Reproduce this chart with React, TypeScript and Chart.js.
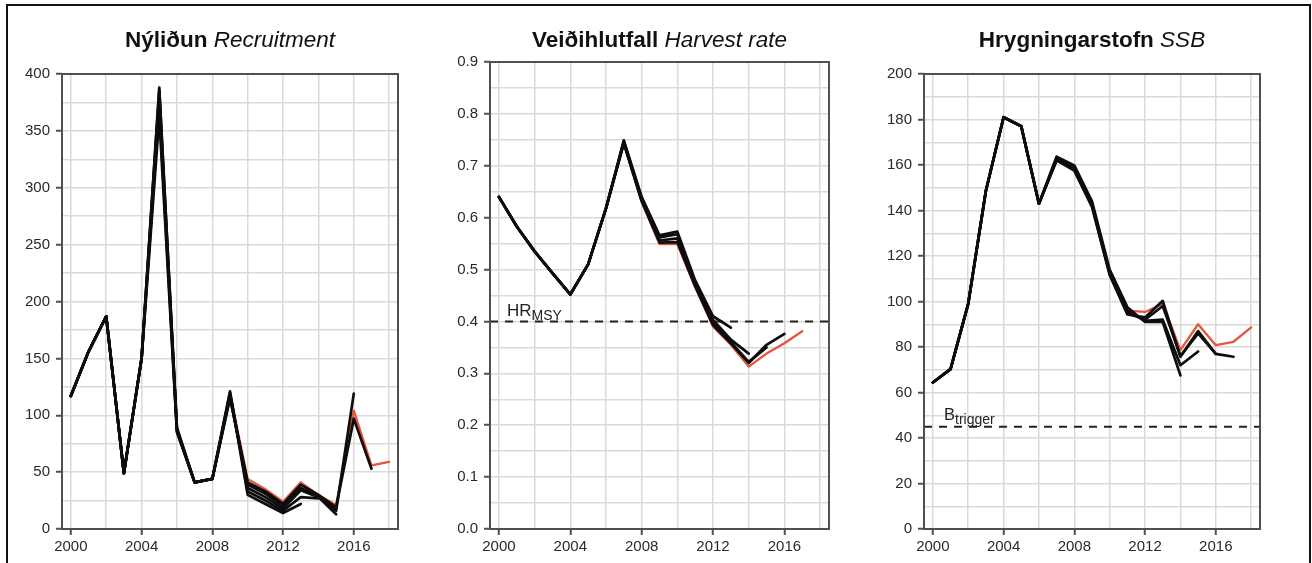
import React, { useEffect, useRef } from 'react';
import { Chart, registerables } from 'chart.js';

Chart.register(...registerables);

// ---------- data ----------
const YEARS = [2000, 2001, 2002, 2003, 2004, 2005, 2006, 2007, 2008, 2009, 2010, 2011, 2012, 2013, 2014, 2015, 2016, 2017, 2018];
const X_GRID = [2000, 2002, 2004, 2006, 2008, 2010, 2012, 2014, 2016, 2018];
const X_LABELS = [2000, 2004, 2008, 2012, 2016];

// Recruitment (Nýliðun) – retrospective runs
const REC_Y_LABELS = [0, 50, 100, 150, 200, 250, 300, 350, 400];
const REC_RUN_2013 = [117, 156, 187, 49, 150, 388, 89, 41, 44, 120, 30, 22, 14, 22];
const REC_RUN_2014 = [117, 156, 187, 49, 150, 386, 88, 41, 44, 121, 33, 25, 16, 28, 27];
const REC_RUN_2015 = [117, 156, 187, 49, 150, 380, 87, 41, 44, 118, 36, 28, 18, 34, 28, 13];
const REC_RUN_2016 = [117, 156, 187, 49, 150, 372, 86, 41, 44, 116, 39, 31, 20, 36, 29, 16, 119];
const REC_RUN_2017 = [117, 156, 187, 49, 150, 362, 85, 41, 44, 115, 41, 33, 22, 39, 30, 19, 97, 53];
const REC_RUN_2018 = [117, 156, 187, 49, 150, 385, 88, 41, 44, 119, 44, 35, 24, 41, 30, 21, 104, 56, 59];

// Harvest rate (Veiðihlutfall)
const HR_Y_LABELS = [0, 0.1, 0.2, 0.3, 0.4, 0.5, 0.6, 0.7, 0.8, 0.9];
const HR_MSY = 0.4;
const HR_RUN_2013 = [0.64, 0.583, 0.535, 0.493, 0.452, 0.51, 0.618, 0.749, 0.64, 0.566, 0.573, 0.479, 0.41, 0.388];
const HR_RUN_2014 = [0.64, 0.583, 0.535, 0.493, 0.452, 0.51, 0.618, 0.747, 0.637, 0.562, 0.568, 0.475, 0.403, 0.365, 0.338];
const HR_RUN_2015 = [0.64, 0.583, 0.535, 0.493, 0.452, 0.51, 0.618, 0.745, 0.634, 0.556, 0.56, 0.47, 0.397, 0.36, 0.322, 0.35];
const HR_RUN_2016 = [0.64, 0.583, 0.535, 0.493, 0.452, 0.51, 0.618, 0.743, 0.632, 0.552, 0.553, 0.468, 0.393, 0.358, 0.32, 0.355, 0.376];
const HR_RUN_2017 = [0.64, 0.583, 0.535, 0.493, 0.452, 0.51, 0.618, 0.742, 0.63, 0.549, 0.549, 0.466, 0.39, 0.355, 0.313, 0.338, 0.358, 0.381];

// Spawning stock biomass (Hrygningarstofn)
const SSB_Y_LABELS = [0, 20, 40, 60, 80, 100, 120, 140, 160, 180, 200];
const B_TRIGGER = 45;
const SSB_RUN_2014 = [64.4, 70.3, 99, 148.7, 181, 177, 143, 163.7, 159.8, 144, 114, 97.5, 91, 91, 67.5];
const SSB_RUN_2015 = [64.4, 70.3, 99, 148.7, 181, 177, 143, 163, 159, 143, 113, 96, 91.5, 92, 72, 78];
const SSB_RUN_2016 = [64.4, 70.3, 99, 148.7, 181, 177, 143, 162.5, 158, 142, 112, 95, 92, 98, 76, 86, 77];
const SSB_RUN_2017 = [64.4, 70.3, 99, 148.7, 181, 177, 143, 162, 157.5, 141.6, 111.7, 94.3, 93, 100.3, 75.7, 87, 77, 75.7];
const SSB_RUN_2018 = [64.4, 70.3, 99, 148.7, 181, 177, 143, 162.3, 158.5, 142.5, 112.5, 96, 95.4, 99, 78.6, 90, 80.8, 82.3, 88.6];

// ---------- styling ----------
const H = 563;
const CHART_BOTTOM = 529;
const FONT = '"Liberation Sans", Arial, Helvetica, sans-serif';
const BLACK = '#0d0d0d';
const RED = '#e4553d';
const GRID = '#d9d9d9';
const AXIS = '#505050';
const TICK_TEXT = '#2a2a2a';

type Run = { values: number[]; color: string; width: number };

interface PanelProps {
  left: number;
  width: number;
  chartLeft: number;
  chartRight: number;
  chartTop: number;
  titleBold: string;
  titleItalic: string;
  yMax: number;
  yLabels: number[];
  yFormat: (v: number) => string;
  runs: Run[];
  refValue?: number;
  refMain?: string;
  refSub?: string;
  refMainSize?: number;
  refSubSize?: number;
  refDx?: number;
  refDy?: number;
}

const isIn = (arr: number[], v: number) => arr.some((a) => Math.abs(a - v) < 1e-9);

function withMidpoints(labels: number[]): number[] {
  const out: number[] = [];
  for (let i = 0; i < labels.length; i++) {
    out.push(labels[i]);
    if (i < labels.length - 1) out.push((labels[i] + labels[i + 1]) / 2);
  }
  return out;
}

function Panel(p: PanelProps) {
  const ref = useRef<HTMLCanvasElement>(null);

  useEffect(() => {
    const canvas = ref.current!;
    const yGrid = withMidpoints(p.yLabels);

    const datasets: any[] = p.runs.map((r) => ({
      data: r.values.map((v, i) => ({ x: YEARS[i], y: v })),
      borderColor: r.color,
      borderWidth: r.width,
      pointRadius: 0,
      tension: 0,
      fill: false,
      borderJoinStyle: 'round',
      borderCapStyle: 'round',
    }));
    if (p.refValue !== undefined) {
      datasets.push({
        data: [
          { x: 1999.5, y: p.refValue },
          { x: 2018.5, y: p.refValue },
        ],
        borderColor: '#222222',
        borderWidth: 2,
        borderDash: [8, 7],
        pointRadius: 0,
        fill: false,
      });
    }

    const decor = {
      id: 'decor',
      afterDraw(chart: any) {
        const ctx = chart.ctx;
        const a = chart.chartArea;
        ctx.save();
        // box
        ctx.strokeStyle = AXIS;
        ctx.lineWidth = 2;
        ctx.strokeRect(a.left, a.top, a.right - a.left, a.bottom - a.top);
        // title
        ctx.fillStyle = '#111111';
        ctx.textBaseline = 'alphabetic';
        ctx.textAlign = 'left';
        const bFont = `bold 22.5px ${FONT}`;
        const iFont = `italic 22.5px ${FONT}`;
        ctx.font = bFont;
        const bw = ctx.measureText(p.titleBold + ' ').width;
        ctx.font = iFont;
        const iw = ctx.measureText(p.titleItalic).width;
        const cx = (a.left + a.right) / 2;
        const x0 = cx - (bw + iw) / 2;
        ctx.font = bFont;
        ctx.fillText(p.titleBold + ' ', x0, 47);
        ctx.font = iFont;
        ctx.fillText(p.titleItalic, x0 + bw, 47);
        // reference label
        if (p.refValue !== undefined && p.refMain) {
          const yy = chart.scales.y.getPixelForValue(p.refValue);
          const lx = a.left + (p.refDx || 18);
          const ly = yy - (p.refDy || 6);
          ctx.fillStyle = '#222222';
          ctx.font = `${p.refMainSize || 16}px ${FONT}`;
          ctx.fillText(p.refMain, lx, ly);
          const mw = ctx.measureText(p.refMain).width;
          ctx.font = `${p.refSubSize || 13}px ${FONT}`;
          ctx.fillText(p.refSub || '', lx + mw, ly + 4);
        }
        ctx.restore();
      },
    };

    const chart = new Chart(canvas, {
      type: 'line',
      data: { datasets },
      plugins: [decor],
      options: {
        animation: false,
        responsive: false,
        maintainAspectRatio: false,
        devicePixelRatio: 1,
        layout: {
          padding: { left: 0, right: p.width - p.chartRight, top: p.chartTop, bottom: 0 },
        },
        plugins: {
          legend: { display: false },
          tooltip: { enabled: false },
          title: { display: false },
        },
        scales: {
          x: {
            type: 'linear',
            min: 1999.5,
            max: 2018.5,
            afterBuildTicks: (s: any) => {
              s.ticks = X_GRID.map((v) => ({ value: v }));
            },
            afterFit: (s: any) => {
              s.height = H - CHART_BOTTOM;
            },
            ticks: {
              autoSkip: false,
              maxRotation: 0,
              padding: 3,
              color: TICK_TEXT,
              font: { family: FONT, size: 15 },
              callback: (v: any) => (isIn(X_LABELS, Number(v)) ? String(v) : ''),
            },
            grid: {
              color: GRID,
              lineWidth: 1.5,
              tickLength: 6,
              tickWidth: 2,
              tickColor: (c: any) => (c.tick && isIn(X_LABELS, c.tick.value) ? AXIS : 'rgba(0,0,0,0)'),
            },
            border: { display: false },
          },
          y: {
            type: 'linear',
            min: 0,
            max: p.yMax,
            afterBuildTicks: (s: any) => {
              s.ticks = yGrid.map((v) => ({ value: v }));
            },
            afterFit: (s: any) => {
              s.width = p.chartLeft;
            },
            ticks: {
              autoSkip: false,
              padding: 6,
              color: TICK_TEXT,
              font: { family: FONT, size: 15 },
              callback: (v: any) => (isIn(p.yLabels, Number(v)) ? p.yFormat(Number(v)) : ''),
            },
            grid: {
              color: GRID,
              lineWidth: 1.5,
              tickLength: 6,
              tickWidth: 2,
              tickColor: (c: any) => (c.tick && isIn(p.yLabels, c.tick.value) ? AXIS : 'rgba(0,0,0,0)'),
            },
            border: { display: false },
          },
        },
      } as any,
    });
    return () => chart.destroy();
  }, []);

  return (
    <canvas
      ref={ref}
      width={p.width}
      height={H}
      style={{ position: 'absolute', left: p.left, top: 0, width: p.width, height: H }}
    />
  );
}

export default function App() {
  const blk = (values: number[]): Run => ({ values, color: BLACK, width: 2.7 });
  const red = (values: number[]): Run => ({ values, color: RED, width: 2.3 });
  return (
    <div
      style={{
        position: 'fixed',
        left: 0,
        top: 0,
        width: 1312,
        height: H,
        background: '#ffffff',
        overflow: 'hidden',
      }}
    >
      <div
        style={{
          position: 'absolute',
          left: 6,
          top: 4,
          width: 1305,
          height: 620,
          border: '2px solid #111',
          boxSizing: 'border-box',
        }}
      />
      <Panel
        left={0}
        width={440}
        chartLeft={62}
        chartRight={398}
        chartTop={74}
        titleBold="Nýliðun"
        titleItalic="Recruitment"
        yMax={400}
        yLabels={REC_Y_LABELS}
        yFormat={(v) => String(v)}
        runs={[
          blk(REC_RUN_2013),
          blk(REC_RUN_2014),
          blk(REC_RUN_2015),
          blk(REC_RUN_2016),
          blk(REC_RUN_2017),
          red(REC_RUN_2018),
        ]}
      />
      <Panel
        left={440}
        width={435}
        chartLeft={50}
        chartRight={389}
        chartTop={62}
        titleBold="Veiðihlutfall"
        titleItalic="Harvest rate"
        yMax={0.9}
        yLabels={HR_Y_LABELS}
        yFormat={(v) => v.toFixed(1)}
        runs={[
          blk(HR_RUN_2013),
          blk(HR_RUN_2014),
          blk(HR_RUN_2015),
          blk(HR_RUN_2016),
          red(HR_RUN_2017),
        ]}
        refValue={HR_MSY}
        refMain="HR"
        refSub="MSY"
        refMainSize={17}
        refSubSize={14}
        refDx={17}
        refDy={5}
      />
      <Panel
        left={875}
        width={437}
        chartLeft={49}
        chartRight={385}
        chartTop={74}
        titleBold="Hrygningarstofn"
        titleItalic="SSB"
        yMax={200}
        yLabels={SSB_Y_LABELS}
        yFormat={(v) => String(v)}
        runs={[
          blk(SSB_RUN_2014),
          blk(SSB_RUN_2015),
          blk(SSB_RUN_2016),
          blk(SSB_RUN_2017),
          red(SSB_RUN_2018),
        ]}
        refValue={B_TRIGGER}
        refMain="B"
        refSub="trigger"
        refMainSize={16.5}
        refSubSize={14}
        refDx={20}
        refDy={7}
      />
    </div>
  );
}
